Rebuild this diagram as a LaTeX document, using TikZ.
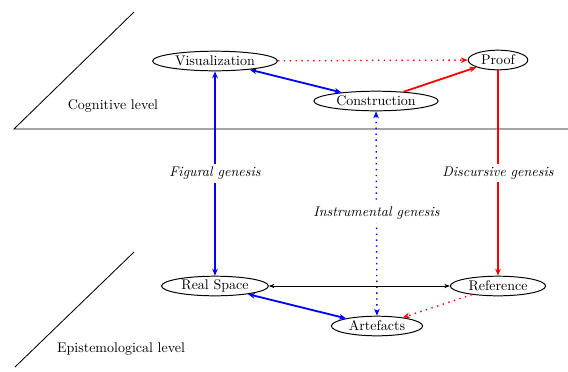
\documentclass[tikz,border=0pt]{standalone}
\usetikzlibrary{shapes.geometric,arrows.meta}
\begin{document}
\begin{tikzpicture}[x=0.714pt,y=-0.714pt,
  state/.style={draw,ellipse,line width=0.7pt,inner xsep=3pt,inner ysep=0.3pt,minimum height=14pt},
  blueline/.style={draw=blue,line width=1.3pt},
  redline/.style={draw=red,line width=1.3pt},
  dotline/.style={line width=1pt,dash pattern=on 1pt off 3.2pt},
  tip/.style={-{Stealth[length=5pt,width=4pt]}},
  tips/.style={{Stealth[length=5pt,width=4pt]}-{Stealth[length=5pt,width=4pt]}},
  genesis/.style={fill=white,font=\itshape,inner sep=2pt}]
\useasboundingbox (0,0) rectangle (568,371);

% level separators
\coordinate (c0) at (14,129);
\coordinate (c1) at (134,12);
\coordinate (c2) at (568,129);
\coordinate (e0) at (15,367);
\coordinate (e1) at (134,252);
\draw[line width=0.6pt] (c1) -- (c0) -- (c2);
\draw[line width=0.6pt] (e0) -- (e1);
\node (cog) at (113,106) {Cognitive level};
\node (epi) at (121,349) {Epistemological level};

% nodes
\node[state] (vis) at (215,61) {Visualization};
\node[state] (con) at (376,101) {Construction};
\node[state] (pro) at (498,60) {Proof};
\node[state] (rs)  at (215,286) {Real Space};
\node[state] (ref) at (498,286) {Reference};
\node[state] (art) at (377,326) {Artefacts};

% connectors
\draw[redline,dotline,tip] (vis) -- (pro);
\draw[blueline,tips] (vis) -- (con);
\draw[redline,tip] (con) -- (pro);
\draw[blueline,tips] (rs) -- node[genesis] {Figural genesis} (vis);
\draw[redline,tip] (pro) -- node[genesis] {Discursive genesis} (ref);
\draw[draw=blue,dotline,tips] (art) -- node[genesis] {Instrumental genesis} (con);
\draw[line width=0.5pt,{Stealth[length=4pt,width=3pt]}-{Stealth[length=4pt,width=3pt]}] (rs) -- (ref);
\draw[blueline,tips] (rs) -- (art);
\draw[redline,dotline,tip] (ref) -- (art);
\end{tikzpicture}
\end{document}
